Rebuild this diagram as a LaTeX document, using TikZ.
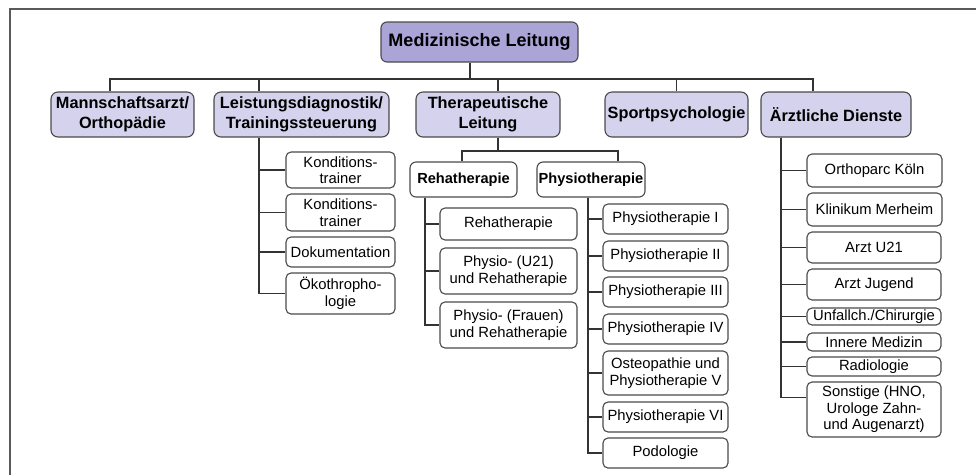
\documentclass[tikz,border=0pt]{standalone}
\usepackage{fontspec}
\setmainfont{Liberation Sans}
\definecolor{headfill}{HTML}{A9A5D6}
\definecolor{deptfill}{HTML}{D4D2EC}
\definecolor{edgegray}{HTML}{4A4A4A}
\definecolor{wiregray}{HTML}{333333}
\definecolor{framegray}{HTML}{5A5A5A}

\tikzset{
  box/.style={draw=edgegray, line width=1.1pt, rounded corners=6pt, align=center,
              inner sep=0pt, fill=white},
  headbox/.style={box, fill=headfill, font=\bfseries\fontsize{18}{21}\selectfont},
  deptbox/.style={box, fill=deptfill, rounded corners=7pt,
                  font=\bfseries\fontsize{16.3}{20}\selectfont},
  groupbox/.style={box, font=\bfseries\fontsize{14.6}{17}\selectfont},
  unitbox/.style={box, rounded corners=5pt, font=\fontsize{14.8}{16.5}\selectfont},
  wire/.style={draw=wiregray, line width=1.3pt},
}

% style, name, x1, y1, x2, y2, text  (pixel-like units, y grows downwards)
\newcommand\orgbox[7]{%
  \node[#1, minimum width={(#5-#3)*1pt}, minimum height={(#6-#4)*1pt}]
    (#2) at ({(#3+#5)/2},{(#4+#6)/2}) {#7};}

\begin{document}
\begin{tikzpicture}[x=1pt, y=-1pt]
\useasboundingbox (0,0) rectangle (976,475);

% outer frame (left and top edges)
\draw[draw=framegray, line width=1.6pt] (10,475) -- (10,9) -- (976,9);

% head and departments
\orgbox{headbox}{head}{381}{22}{578}{62}{Medizinische Leitung}
\orgbox{deptbox}{team}{51}{92}{194}{137}{Mannschaftsarzt/\\Orthopädie}
\orgbox{deptbox}{perf}{214}{92}{389}{137}{Leistungsdiagnostik/\\Trainingssteuerung}
\orgbox{deptbox}{ther}{416}{92}{560}{137}{Therapeutische\\Leitung}
\orgbox{deptbox}{psy}{605}{92}{748}{137}{Sportpsychologie}
\orgbox{deptbox}{med}{761}{92}{911}{137}{Ärztliche Dienste}

% performance diagnostics units
\orgbox{unitbox}{k1}{286}{152}{395}{188}{Konditions-\\trainer}
\orgbox{unitbox}{k2}{286}{194}{395}{231}{Konditions-\\trainer}
\orgbox{unitbox}{doku}{286}{237}{395}{267}{Dokumentation}
\orgbox{unitbox}{oeko}{286}{273}{395}{314}{Ökothropho-\\logie}

% therapy groups
\orgbox{groupbox}{reha}{410}{162}{517}{197}{Rehatherapie}
\orgbox{groupbox}{phys}{537}{162}{645}{197}{Physiotherapie}

\orgbox{unitbox}{r1}{440}{208}{577}{240}{Rehatherapie}
\orgbox{unitbox}{r2}{440}{248}{577}{294}{Physio- (U21)\\und Rehatherapie}
\orgbox{unitbox}{r3}{440}{302}{577}{348}{Physio- (Frauen)\\und Rehatherapie}

\orgbox{unitbox}{p1}{603}{204}{728}{234}{Physiotherapie I}
\orgbox{unitbox}{p2}{603}{241}{728}{271}{Physiotherapie II}
\orgbox{unitbox}{p3}{603}{277}{728}{307}{Physiotherapie III}
\orgbox{unitbox}{p4}{603}{314}{728}{344}{Physiotherapie IV}
\orgbox{unitbox}{p5}{603}{351}{728}{395}{Osteopathie und\\Physiotherapie V}
\orgbox{unitbox}{p6}{603}{402}{728}{432}{Physiotherapie VI}
\orgbox{unitbox}{p7}{603}{438}{728}{468}{Podologie}

% medical services units
\orgbox{unitbox}{a1}{807}{154}{942}{187}{Orthoparc Köln}
\orgbox{unitbox}{a2}{807}{193}{942}{226}{Klinikum Merheim}
\orgbox{unitbox}{a3}{807}{232}{941}{263}{Arzt U21}
\orgbox{unitbox}{a4}{807}{269}{941}{300}{Arzt Jugend}
\orgbox{unitbox}{a5}{807}{308}{941}{325}{Unfallch./Chirurgie}
\orgbox{unitbox}{a6}{807}{333}{941}{351}{Innere Medizin}
\orgbox{unitbox}{a7}{807}{357}{941}{376}{Radiologie}
\orgbox{unitbox}{a8}{807}{382}{941}{437}{Sonstige (HNO,\\Urologe Zahn-\\und Augenarzt)}

% head to departments
\coordinate (hub) at ([xshift=-9.5pt]head.south |- 0,79);
\draw[wire] ([xshift=-9.5pt]head.south) -- (hub);
\draw[wire] (hub) -| ([xshift=-12.5pt]team.north);
\draw[wire] (hub) -| ([xshift=-42.5pt]perf.north);
\draw[wire] (hub) -| ([xshift=10pt]ther.north);
\draw[wire] (hub) -| (psy.north);
\draw[wire] (hub) -| ([xshift=-23pt]med.north);

% performance diagnostics trunk
\coordinate (perftrunk) at ([xshift=-42.5pt]perf.south);
\foreach \n in {k1,k2,doku,oeko} \draw[wire] (perftrunk) |- (\n.west);

% therapy split
\coordinate (therhub) at ([xshift=10pt]ther.south |- 0,151);
\draw[wire] ([xshift=10pt]ther.south) -- (therhub);
\draw[wire] (therhub) -| ([xshift=-1.5pt]reha.north);
\draw[wire] (therhub) -| ([xshift=27pt]phys.north);

\coordinate (rehatrunk) at ([xshift=-38.5pt]reha.south);
\foreach \n in {r1,r2,r3} \draw[wire] (rehatrunk) |- (\n.west);

\coordinate (phystrunk) at ([xshift=-3pt]phys.south);
\foreach \n in {p1,p2,p3,p4,p5,p6,p7} \draw[wire] (phystrunk) |- (\n.west);

% medical services trunk
\coordinate (medtrunk) at ([xshift=-55pt]med.south);
\foreach \n in {a1,a2,a3,a4,a5,a6,a7} \draw[wire] (medtrunk) |- (\n.west);
\draw[wire] (medtrunk) |- ([yshift=12pt]a8.west);
\end{tikzpicture}
\end{document}
